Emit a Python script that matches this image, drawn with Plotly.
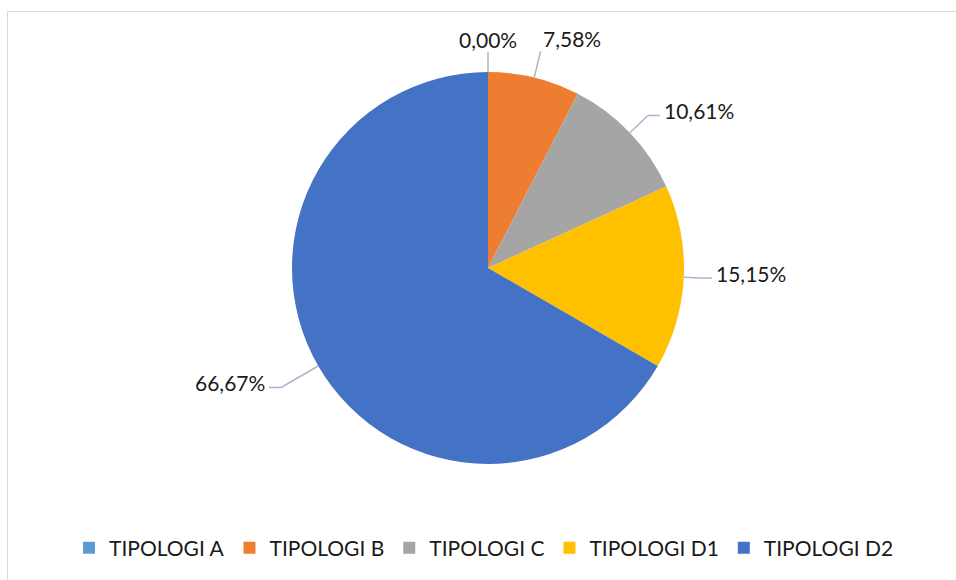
import math
import plotly.graph_objects as go

# ---- data ----
categories = ["TIPOLOGI A", "TIPOLOGI B", "TIPOLOGI C", "TIPOLOGI D1", "TIPOLOGI D2"]
counts = [0, 5, 7, 10, 44]

# ---- style ----
colors = ["#5B9BD5", "#ED7D31", "#A5A5A5", "#FFC000", "#4472C4"]
leader_len = [20, 27, 25, 16, 43]
FONT = "Lato"
W, H = 956, 580
CX, CY, R = 488, 268, 196


def px(x):
    return x / W


def py(y):
    return 1 - y / H


total = sum(counts)
pct_text = [("%.2f" % (v / total * 100)).replace(".", ",") + "%" for v in counts]

fig = go.Figure(
    go.Pie(
        labels=categories,
        values=counts,
        sort=False,
        direction="clockwise",
        rotation=0,
        marker=dict(colors=colors, line=dict(width=0)),
        textinfo="none",
        hovertemplate="%{label}: %{percent}<extra></extra>",
        domain=dict(x=[px(CX - R), px(CX + R)], y=[py(CY + R), py(CY - R)]),
        showlegend=True,
    )
)

shapes = []
annotations = []
cum = 0.0
for i, v in enumerate(counts):
    frac_mid = (cum + v / 2) / total
    cum += v
    th = 2 * math.pi * frac_mid
    s, c = math.sin(th), math.cos(th)
    P = (CX + R * s, CY - R * c)
    E = (CX + (R + leader_len[i]) * s, CY - (R + leader_len[i]) * c)
    line = dict(color="#A9B7CB", width=1.5)
    shapes.append(dict(type="line", xref="paper", yref="paper",
                       x0=px(P[0]), y0=py(P[1]), x1=px(E[0]), y1=py(E[1]), line=line))
    if abs(s) > 0.5:
        sg = 1 if s > 0 else -1
        F = (E[0] + sg * 12, E[1])
        shapes.append(dict(type="line", xref="paper", yref="paper",
                           x0=px(E[0]), y0=py(E[1]), x1=px(F[0]), y1=py(F[1]), line=line))
        annotations.append(dict(x=px(F[0] + sg * 2), y=py(F[1] - 5), xref="paper", yref="paper",
                                text=pct_text[i], showarrow=False,
                                xanchor="left" if sg > 0 else "right", yanchor="middle",
                                font=dict(family=FONT, size=21, color="#1a1a1a")))
    else:
        if abs(s) < 0.1:
            xa = "center"
        else:
            xa = "left" if s > 0 else "right"
        annotations.append(dict(x=px(E[0]), y=py(E[1] + 2), xref="paper", yref="paper",
                                text=pct_text[i], showarrow=False,
                                xanchor=xa, yanchor="bottom",
                                font=dict(family=FONT, size=21, color="#1a1a1a")))

# chart border
shapes.append(dict(type="rect", xref="paper", yref="paper",
                   x0=px(7.5), y0=py(11.5), x1=px(1000), y1=py(700),
                   line=dict(color="#D9D9D9", width=1), fillcolor="rgba(0,0,0,0)"))

fig.update_layout(
    width=W, height=H,
    margin=dict(l=0, r=0, t=0, b=0),
    paper_bgcolor="white",
    plot_bgcolor="white",
    shapes=shapes,
    annotations=annotations,
    legend=dict(orientation="h", x=px(484), xanchor="center", y=py(548), yanchor="middle",
                font=dict(family=FONT, size=21, color="#1a1a1a"),
                traceorder="normal"),
)

fig.write_html("out.html",
               config={"displayModeBar": False},
               post_script="document.body.style.margin='0';document.body.style.overflow='hidden';")
